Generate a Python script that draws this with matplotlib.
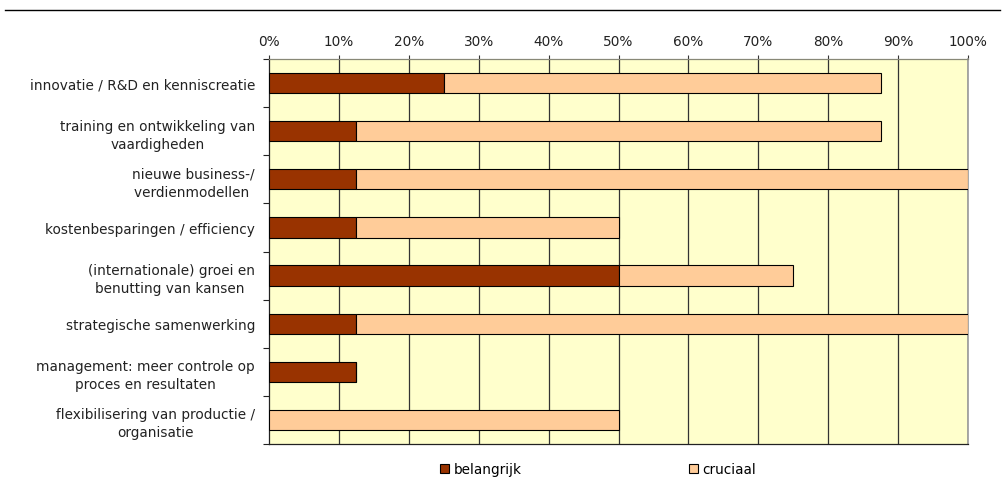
import matplotlib
matplotlib.use("Agg")
import matplotlib.pyplot as plt
import numpy as np
from matplotlib.lines import Line2D
from matplotlib.patches import Patch

categories = [
    "innovatie / R&D en kenniscreatie",
    "training en ontwikkeling van\nvaardigheden",
    "nieuwe business-/\nverdienmodellen ",
    "kostenbesparingen / efficiency",
    "(internationale) groei en\nbenutting van kansen ",
    "strategische samenwerking",
    "management: meer controle op\nproces en resultaten",
    "flexibilisering van productie /\norganisatie",
]
belangrijk = [25.0, 12.5, 12.5, 12.5, 50.0, 12.5, 12.5, 0.0]
cruciaal = [62.5, 75.0, 87.5, 37.5, 25.0, 87.5, 0.0, 50.0]
xticks = [0, 10, 20, 30, 40, 50, 60, 70, 80, 90, 100]
xticklabels = [f"{t}%" for t in xticks]
series_names = ["belangrijk", "cruciaal"]

col_bel = "#993300"
col_cru = "#FFCC99"
bg = "#FFFFCC"
fs = 9.8

plt.rcParams["font.family"] = ["DejaVu Sans"]
fig = plt.figure(figsize=(10.04, 4.85), dpi=100)
ax = fig.add_axes([269 / 1004, 1 - 445 / 485, (968 - 269) / 1004, (445 - 60) / 485])
ax.set_facecolor(bg)

y = np.arange(len(categories))
h = 0.42
ax.barh(y, belangrijk, height=h, color=col_bel, edgecolor="black", linewidth=0.8, zorder=3)
ax.barh(y, cruciaal, left=belangrijk, height=h, color=col_cru, edgecolor="black", linewidth=0.8, zorder=3)

ax.set_xlim(0, 100)
ax.set_ylim(len(categories) - 0.5, -0.5)
ax.xaxis.tick_top()
ax.set_xticks(xticks)
ax.set_xticklabels(xticklabels, fontsize=fs, color="#222222")
ax.tick_params(axis="x", length=3, width=0.8, color="#333333", pad=5)
for t in xticks[1:]:
    ax.axvline(t, color="#333333", linewidth=0.9, zorder=1)

ax.set_yticks(y)
ax.set_yticklabels(categories, fontsize=fs, color="#222222", ha="right",
                   multialignment="center", linespacing=1.35)
ax.tick_params(axis="y", length=0, pad=10)
ax.set_yticks(np.arange(-0.5, len(categories) + 0.5, 1.0), minor=True)
ax.tick_params(axis="y", which="minor", length=4, width=0.8, color="#222222")

for side in ["left", "bottom"]:
    ax.spines[side].set_color("#222222")
    ax.spines[side].set_linewidth(0.9)
ax.spines["top"].set_color("#888877")
ax.spines["top"].set_linewidth(0.9)
ax.spines["right"].set_color("#999999")
ax.spines["right"].set_linewidth(1.2)

fig.add_artist(Line2D([5 / 1004, 1000 / 1004], [1 - 11 / 485, 1 - 11 / 485],
                      color="black", linewidth=1.0))

colors = [col_bel, col_cru]
anchors = [440 / 1004, 689 / 1004]
for name, c, xa in zip(series_names, colors, anchors):
    fig.legend([Patch(facecolor=c, edgecolor="black", linewidth=0.8)], [name],
               loc="center left", bbox_to_anchor=(xa, 1 - 470 / 485), frameon=False,
               fontsize=fs, handlelength=0.65, handleheight=0.65, handletextpad=0.35,
               borderpad=0, borderaxespad=0)

fig.savefig("out.png", dpi=100, facecolor="white")
